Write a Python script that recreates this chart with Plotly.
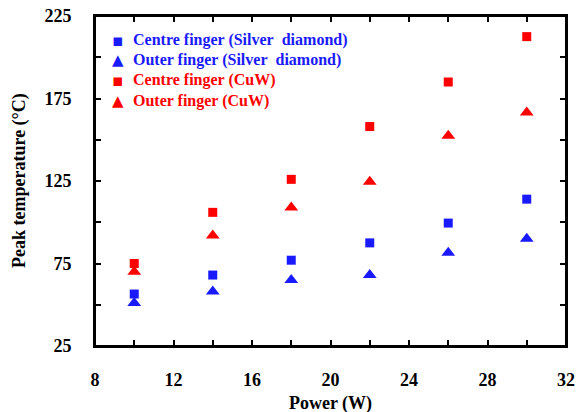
import plotly.graph_objects as go

power = [10, 14, 18, 22, 26, 30]
centre_silver = [56.5, 68, 77, 87.5, 99.5, 114]
outer_silver = [51, 58, 65, 68, 81.5, 90]
centre_cuw = [75, 106, 126, 158, 185, 212.5]
outer_cuw = [70, 92, 109, 124.5, 152.5, 166.5]

x_ticks = [8, 10, 12, 14, 16, 18, 20, 22, 24, 26, 28, 30, 32]
x_labels = ["8", "", "12", "", "16", "", "20", "", "24", "", "28", "", "32"]
y_ticks = [25, 50, 75, 100, 125, 150, 175, 200, 225]
y_labels = ["25", "", "75", "", "125", "", "175", "", "225"]

series_names = ["Centre finger (Silver&nbsp; diamond)", "Outer finger (Silver&nbsp; diamond)",
                "Centre finger (CuW)", "Outer finger (CuW)"]
x_title = "Power (W)"
y_title = "Peak temperature (&#176;C)"

BLUE = "#1a1aff"
RED = "#ff0000"
FONT = "Liberation Serif"
SQUARE_GLYPH = "&#9642;"
TRIANGLE_GLYPH = "&#9650;"

styles = [
    (centre_silver, BLUE, "square", 9, SQUARE_GLYPH),
    (outer_silver, BLUE, "triangle-up", 12, TRIANGLE_GLYPH),
    (centre_cuw, RED, "square", 9, SQUARE_GLYPH),
    (outer_cuw, RED, "triangle-up", 12, TRIANGLE_GLYPH),
]

fig = go.Figure()
for name, (vals, col, sym, sz, glyph) in zip(series_names, styles):
    fig.add_trace(go.Scatter(
        x=power, y=vals, mode="markers", name=name, showlegend=False,
        marker=dict(symbol=sym, size=sz, color=col),
    ))

labfont = dict(family=FONT, size=18, color="black", weight="bold")

fig.update_xaxes(
    range=[x_ticks[0], x_ticks[-1]],
    tickmode="array", tickvals=x_ticks, ticktext=x_labels,
    showgrid=False, zeroline=False,
    showline=True, linecolor="black", linewidth=2, mirror="ticks",
    ticks="inside", ticklen=6, tickwidth=2, tickcolor="black",
    ticklabelstandoff=16,
    tickfont=labfont, automargin=False,
)
fig.update_yaxes(
    range=[y_ticks[0], y_ticks[-1]],
    tickmode="array", tickvals=y_ticks, ticktext=[t + "&#8194;&#8194;" for t in y_labels],
    showgrid=False, zeroline=False,
    showline=True, linecolor="black", linewidth=2, mirror="ticks",
    ticks="inside", ticklen=6, tickwidth=2, tickcolor="black",
    tickfont=labfont, automargin=False,
)

W, H = 579, 412
ML, MR, MT, MB = 95, 13, 16, 66
PW, PH = W - ML - MR, H - MT - MB


def px_x(px):
    return (px - ML) / PW


def px_y(py):
    return 1 - (py - MT) / PH


legend_rows = [40, 60, 80, 101]
annotations = []
for (name, (vals, col, sym, sz, glyph)), row in zip(zip(series_names, styles), legend_rows):
    annotations.append(dict(
        text=glyph, x=px_x(118), y=px_y(row), xref="paper", yref="paper",
        xanchor="center", yanchor="middle", showarrow=False,
        font=dict(family="DejaVu Sans", size=15 if glyph == TRIANGLE_GLYPH else 17, color=col),
    ))
    annotations.append(dict(
        text=name, x=px_x(131), y=px_y(row), xref="paper", yref="paper",
        xanchor="left", yanchor="middle", showarrow=False,
        font=dict(family=FONT, size=16, color=col, weight="bold"),
    ))

annotations.append(dict(
    text=y_title, x=px_x(19), y=0.5, xref="paper", yref="paper", textangle=-90,
    xanchor="center", yanchor="middle", showarrow=False, font=labfont,
))

# frame around the plotting area
fig.add_shape(type="rect", xref="paper", yref="paper", x0=0, x1=1, y0=0, y1=1,
              line=dict(color="black", width=2), layer="above")

fig.update_layout(
    width=W, height=H,
    margin=dict(l=ML, r=MR, t=MT, b=MB),
    title=dict(text=x_title, x=0.5, xref="paper", xanchor="center",
               y=1 - 403 / H, yref="container", yanchor="middle", font=labfont),
    font=dict(family=FONT, size=16, color="black"),
    paper_bgcolor="white", plot_bgcolor="white",
    showlegend=False,
    annotations=annotations,
)

fig.write_html("out.html")
